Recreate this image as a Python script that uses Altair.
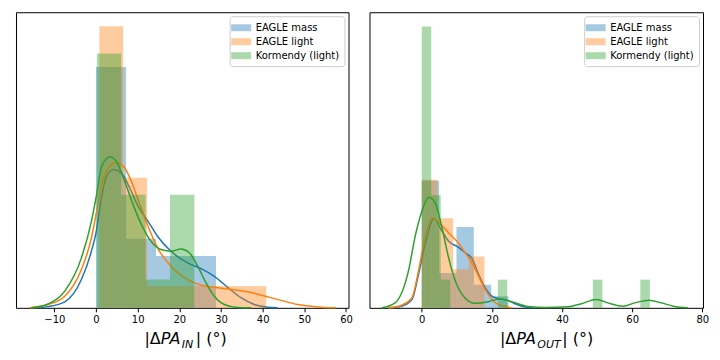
import altair as alt
import pandas as pd

SERIES = ["EAGLE mass", "EAGLE light", "Kormendy (light)"]
COLORS = ["#1f77b4", "#ff7f0e", "#2ca02c"]

# ---------------- left panel (|dPA_IN|) : histogram bins (density) ----------------
L_BLUE_EDGES = [0.0, 7.2, 14.4, 21.6, 28.8]
L_BLUE_H = [0.0810, 0.0232, 0.0174, 0.0174]
L_ORANGE_EDGES = [0.8, 6.52, 12.24, 17.96, 23.68, 29.4, 35.12, 40.84]
L_ORANGE_H = [0.0947, 0.0437, 0.0073, 0.0073, 0.0073, 0.0073, 0.0073]
L_GREEN_EDGES = [0.2, 6.05, 11.9, 17.75, 23.6]
L_GREEN_H = [0.0855, 0.0380, 0.0095, 0.0380]

# left panel KDE curves
L_BLUE_KX = [-14.7, -11.5, -7.5, -3.5, -1.1, 0.0, 1.3, 2.5, 4.2, 6.1, 8.1, 10.1, 12.5, 14.8,
             18.0, 22.0, 25.2, 28.4, 31.6, 34.8, 38.0, 41.2, 43.6]
L_BLUE_KY = [0.0, 0.0004, 0.0020, 0.0095, 0.0190, 0.0252, 0.0369, 0.0442, 0.0465, 0.0453,
             0.0403, 0.0341, 0.0291, 0.0240, 0.0190, 0.0151, 0.0132, 0.0106, 0.0069, 0.0034,
             0.0011, 0.0002, 0.0]
L_ORANGE_KX = [-15.9, -11.5, -7.5, -3.5, -1.1, 0.0, 1.3, 2.9, 4.9, 6.9, 8.5, 10.5, 12.5, 14.8,
               18.0, 22.0, 25.2, 28.4, 32.4, 36.4, 40.4, 44.4, 48.4, 52.4, 57.5]
L_ORANGE_KY = [0.0, 0.0011, 0.0039, 0.0129, 0.0235, 0.0313, 0.0414, 0.0470, 0.0489, 0.0470,
               0.0425, 0.0347, 0.0274, 0.0201, 0.0140, 0.0095, 0.0076, 0.0069, 0.0062, 0.0054,
               0.0040, 0.0025, 0.0011, 0.0004, 0.0]
L_GREEN_KX = [-15.5, -11.5, -7.5, -3.5, -1.1, 0.0, 1.4, 3.3, 4.9, 6.9, 8.9, 10.9, 13.2, 15.6,
              18.0, 20.4, 22.4, 24.4, 26.4, 28.4, 30.8, 34.0, 37.2]
L_GREEN_KY = [0.0, 0.0013, 0.0056, 0.0168, 0.0291, 0.0369, 0.0476, 0.0507, 0.0492, 0.0425,
              0.0347, 0.0280, 0.0224, 0.0196, 0.0190, 0.0198, 0.0185, 0.0140, 0.0084, 0.0039,
              0.0011, 0.0001, 0.0]

# ---------------- right panel (|dPA_OUT|) ----------------
R_BLUE_EDGES = [0.0, 4.95, 9.9, 14.85, 19.8, 24.75]
R_BLUE_H = [0.0926, 0.0253, 0.0589, 0.0168, 0.0084]
R_ORANGE_EDGES = [0.0, 4.47, 8.94, 13.41, 17.88]
R_ORANGE_H = [0.0932, 0.0652, 0.0280, 0.0373]
R_GREEN_X0 = [0.0, 2.71, 5.42, 21.68, 48.78, 62.33]
R_GREEN_X1 = [2.71, 5.42, 8.13, 24.39, 51.49, 65.04]
R_GREEN_H = [0.2050, 0.0820, 0.0205, 0.0205, 0.0205, 0.0205]

R_BLUE_KX = [-9.5, -5.7, -2.8, -0.95, 0.95, 3.5, 5.5, 7.7, 10.5, 12.4, 14.3, 16.2, 18.1, 20.0,
             21.8, 24.3, 26.6, 29.5, 32.2]
R_BLUE_KY = [0.0, 0.0012, 0.0060, 0.0240, 0.0460, 0.0650, 0.0570, 0.0485, 0.0440, 0.0400,
             0.0360, 0.0245, 0.0145, 0.0085, 0.0068, 0.0056, 0.0030, 0.0005, 0.0]
R_ORANGE_KX = [-9.5, -5.7, -2.8, -0.95, 0.95, 2.9, 5.0, 7.7, 10.5, 12.4, 14.3, 16.2, 18.1, 20.0,
               21.8, 24.6, 25.5]
R_ORANGE_KY = [0.0, 0.0019, 0.0073, 0.0267, 0.0510, 0.0655, 0.0620, 0.0545, 0.0470, 0.0400,
               0.0330, 0.0230, 0.0134, 0.0061, 0.0025, 0.0005, 0.0]
R_GREEN_KX = [-11.4, -7.6, -3.8, -1.8, 0.0, 2.0, 3.9, 5.8, 7.7, 9.6, 12.4, 15.2, 19.0, 22.3,
              25.6, 30.3, 35.1, 41.7, 45.5, 49.8, 53.1, 57.4, 60.7, 64.8, 68.3, 72.1, 75.9]
R_GREEN_KY = [0.0, 0.0036, 0.0267, 0.0530, 0.0700, 0.0805, 0.0760, 0.0580, 0.0360, 0.0194,
              0.0070, 0.0033, 0.0045, 0.0065, 0.0045, 0.0010, 0.0002, 0.0007, 0.0030, 0.0061,
              0.0036, 0.0012, 0.0036, 0.0056, 0.0036, 0.0010, 0.0]

L_XDOM = [-19.2, 60.6]
L_YMAX = 0.0994
L_TICKS = [-10, 0, 10, 20, 30, 40, 50, 60]
R_XDOM = [-14.9, 80.2]
R_YMAX = 0.2153
R_TICKS = [0, 20, 40, 60, 80]

H = 296
FONT = "DejaVu Sans"


def bars(x0, x1, h, name):
    return pd.DataFrame({"x0": x0, "x1": x1, "h": h, "series": [name] * len(h)})


def kde(xs, ys):
    return pd.DataFrame({"x": xs, "y": ys})


def piece(text, x, y, size, italic, align):
    return alt.Chart(alt.Data(values=[{}])).mark_text(
        text=text, align=align, baseline="alphabetic", font=FONT, fontSize=size,
        fontStyle="italic" if italic else "normal", color="black"
    ).encode(x=alt.value(x), y=alt.value(y))


def panel(bar_dfs, kde_dfs, xdom, ymax, ticks, width, title_parts):
    xs = alt.Scale(domain=xdom, nice=False, zero=False)
    ys = alt.Scale(domain=[0, ymax], nice=False, zero=True)
    cs = alt.Scale(domain=SERIES, range=COLORS)
    ax = alt.Axis(values=ticks, title=None, format="d", labelFlush=False, labelOverlap=False)
    leg = alt.Legend(
        title=None, orient="top-right", offset=4,
        symbolType="M-1.6,-0.56L1.6,-0.56L1.6,0.56L-1.6,0.56Z", symbolSize=156,
        symbolOpacity=0.4, symbolStrokeWidth=0,
        labelFont=FONT, labelFontSize=10, labelColor="black", labelOffset=8,
        rowPadding=2, padding=5, fillColor="white", strokeColor="#cccccc", cornerRadius=3,
    )
    layers = []
    for i in range(3):
        layers.append(
            alt.Chart(bar_dfs[i]).mark_rect(opacity=0.4).encode(
                x=alt.X("x0:Q", scale=xs, axis=ax),
                x2="x1:Q",
                y=alt.Y("h:Q", scale=ys, axis=None),
                y2=alt.datum(0),
                color=alt.Color("series:N", scale=cs, legend=leg),
            )
        )
        layers.append(
            alt.Chart(kde_dfs[i]).mark_line(color=COLORS[i], strokeWidth=1.5,
                                            interpolate="monotone").encode(
                x=alt.X("x:Q", scale=xs, axis=ax),
                y=alt.Y("y:Q", scale=ys, axis=None),
            )
        )
    for p in title_parts:
        layers.append(piece(*p))
    return alt.layer(*layers).properties(width=width, height=H)


left = panel(
    [bars(L_BLUE_EDGES[:-1], L_BLUE_EDGES[1:], L_BLUE_H, SERIES[0]),
     bars(L_ORANGE_EDGES[:-1], L_ORANGE_EDGES[1:], L_ORANGE_H, SERIES[1]),
     bars(L_GREEN_EDGES[:-1], L_GREEN_EDGES[1:], L_GREEN_H, SERIES[2])],
    [kde(L_BLUE_KX, L_BLUE_KY), kde(L_ORANGE_KX, L_ORANGE_KY), kde(L_GREEN_KX, L_GREEN_KY)],
    L_XDOM, L_YMAX, L_TICKS, 333,
    [("|Δ", 145, 332, 16, False, "right"), ("PA", 145, 332, 16, True, "left"),
     ("IN", 166, 336, 11, True, "left"), ("| (°)", 180, 332, 16, False, "left")],
)

right = panel(
    [bars(R_BLUE_EDGES[:-1], R_BLUE_EDGES[1:], R_BLUE_H, SERIES[0]),
     bars(R_ORANGE_EDGES[:-1], R_ORANGE_EDGES[1:], R_ORANGE_H, SERIES[1]),
     bars(R_GREEN_X0, R_GREEN_X1, R_GREEN_H, SERIES[2])],
    [kde(R_BLUE_KX, R_BLUE_KY), kde(R_ORANGE_KX, R_ORANGE_KY), kde(R_GREEN_KX, R_GREEN_KY)],
    R_XDOM, R_YMAX, R_TICKS, 334,
    [("|Δ", 147, 332, 16, False, "right"), ("PA", 147, 332, 16, True, "left"),
     ("OUT", 168, 336, 11, True, "left"), ("| (°)", 193, 332, 16, False, "left")],
)

chart = alt.hconcat(left, right, spacing=21, bounds="flush").resolve_scale(
    color="independent"
).resolve_legend(color="independent").configure(
    padding={"left": 7, "top": 3, "right": 2, "bottom": 2}, background="white"
).configure_view(stroke="black", strokeWidth=1).configure_axis(
    domain=False, grid=False, tickColor="black", tickSize=4, tickWidth=1,
    labelFont=FONT, labelFontSize=10, labelColor="black", labelPadding=3,
)

chart.save("out.html", embed_options={"renderer": "svg", "actions": False})
